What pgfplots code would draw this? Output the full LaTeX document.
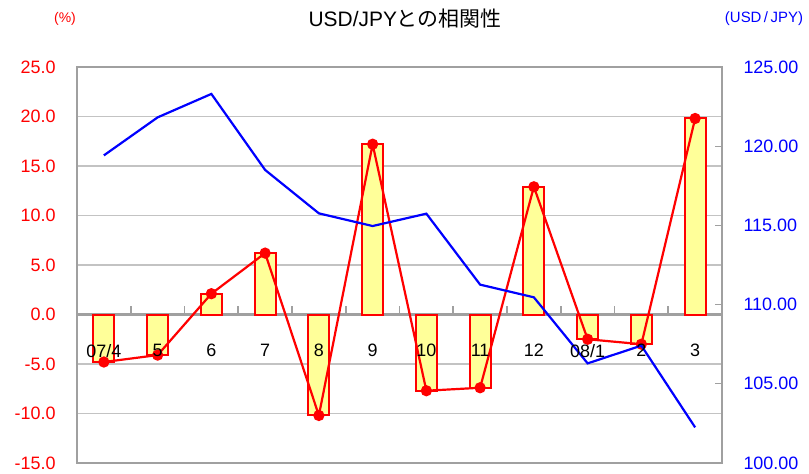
\documentclass[border=0pt]{standalone}
\usepackage{pgfplots}
\pgfplotsset{compat=1.18}
\usepackage{pgfplotstable}
\usepackage{fontspec}
\setmainfont{Liberation Sans}
\newfontfamily\cjk{Noto Sans CJK JP}
\definecolor{framegray}{RGB}{160,160,160}
\definecolor{gridgray}{RGB}{195,195,195}
\definecolor{barfill}{RGB}{255,255,153}
\definecolor{myblue}{RGB}{0,0,255}
\definecolor{myred}{RGB}{255,0,0}

\pgfplotstableread{
x r usd
0 -4.8 119.42
1 -4.1 121.82
2 2.1 123.30
3 6.2 118.50
4 -10.2 115.76
5 17.2 114.96
6 -7.7 115.74
7 -7.4 111.26
8 12.9 110.46
9 -2.5 106.29
10 -3.0 107.41
11 19.8 102.25
}\data

\begin{document}
\begin{tikzpicture}
\useasboundingbox (-77bp,-11bp) rectangle (732bp,463bp);
\begin{axis}[
  scale only axis, width=645bp, height=396bp,
  at={(0,0)}, anchor=south west,
  xmin=-0.5, xmax=11.5, ymin=-15, ymax=25,
  axis x line=middle, axis y line=left,
  axis line style={draw=framegray, line width=2.2bp, -},
  ytick={-15,-10,...,25},
  ymajorgrids, grid style={draw=gridgray, line width=1.8bp},
  major tick length=0pt,
  xtick=\empty,
  tick label style={font=\fontsize{18}{20}\selectfont},
  /pgf/number format/assume math mode=true,
  yticklabel style={myred, xshift=-18bp, /pgf/number format/.cd, fixed, fixed zerofill, precision=1},
  clip=false,
]
\addplot[ybar, bar width=0.39, fill=barfill, draw=myred, line width=2bp] table[x=x,y=r]{\data};
\addplot[myred, line width=2.2bp, mark=*, mark size=4.5bp, mark options={fill=myred, draw=myred}] table[x=x,y=r]{\data};
\end{axis}
\begin{axis}[
  scale only axis, width=645bp, height=396bp,
  at={(0,0)}, anchor=south west,
  xmin=-0.5, xmax=11.5, ymin=100, ymax=125,
  axis x line=none, axis y line*=right,
  axis line style={draw=framegray, line width=2.2bp, -},
  ytick={100,105,...,125},
  tick align=inside, major tick length=7bp,
  ytick style={draw=framegray, line width=1.3bp},
  tick label style={font=\fontsize{18}{20}\selectfont},
  /pgf/number format/assume math mode=true,
  yticklabel style={myblue, xshift=18bp, /pgf/number format/.cd, fixed, fixed zerofill, precision=2},
]
\addplot[myblue, line width=2.2bp, mark=none] table[x=x,y=usd]{\data};
\end{axis}
\begin{axis}[
  scale only axis, width=645bp, height=396bp,
  at={(0,0)}, anchor=south west,
  xmin=-0.5, xmax=11.5, ymin=-15, ymax=25,
  axis x line=middle, axis y line=none,
  axis line style={draw=none},
  major tick length=0pt,
  xtick={0,...,11},
  xticklabels={07/4,5,6,7,8,9,10,11,12,08/1,2,3},
  tick label style={font=\fontsize{18}{20}\selectfont},
  xticklabel style={black, yshift=-26bp},
]
\end{axis}
\draw[framegray, line width=2.2bp] (0,0) rectangle (645bp,396bp);
\foreach \t in {53.75,107.5,161.25,215,268.75,322.5,376.25,430,483.75,537.5,591.25} {
  \draw[framegray, line width=1.8bp] (\t bp,148bp) -- (\t bp,157bp);
}
\node[font=\fontsize{21}{24}\selectfont] at (328bp,444bp) {USD/JPY{\cjk との相関性}};
\node[myred, font=\fontsize{14}{16}\selectfont] at (-12bp,444bp) {(\%)};
\node[myblue, font=\fontsize{15}{17}\selectfont] at (687bp,444bp) {(USD\,/\,JPY)};
\end{tikzpicture}
\end{document}
